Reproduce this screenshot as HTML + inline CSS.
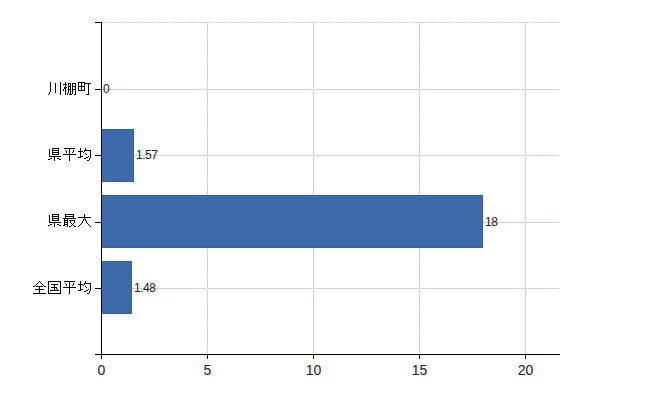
<!DOCTYPE html>
<html><head><meta charset="utf-8"><style>
html,body{margin:0;padding:0;background:#fff;}
svg{display:block;}
.xl{font-family:"Liberation Sans",sans-serif;font-size:14px;fill:#222;}
.vl{font-family:"Liberation Sans",sans-serif;font-size:12px;fill:#222;letter-spacing:-0.5px;}
</style></head><body>
<svg width="650" height="400" viewBox="0 0 650 400" shape-rendering="crispEdges">
<rect x="207" y="23" width="1" height="331" fill="#c8d3c8"/>
<line x1="207.5" y1="27" x2="207.5" y2="354" stroke="#f0c4f0" stroke-width="1" stroke-dasharray="1,5"/>
<rect x="313" y="23" width="1" height="331" fill="#c8d3c8"/>
<line x1="313.5" y1="28" x2="313.5" y2="354" stroke="#f0c4f0" stroke-width="1" stroke-dasharray="1,5"/>
<rect x="419" y="23" width="1" height="331" fill="#c8d3c8"/>
<line x1="419.5" y1="28" x2="419.5" y2="354" stroke="#f0c4f0" stroke-width="1" stroke-dasharray="1,5"/>
<rect x="525" y="23" width="1" height="331" fill="#c8d3c8"/>
<line x1="525.5" y1="27" x2="525.5" y2="354" stroke="#f0c4f0" stroke-width="1" stroke-dasharray="1,5"/>
<rect x="102" y="89" width="457" height="1" fill="#cdd6cd"/>
<rect x="102" y="155" width="457" height="1" fill="#cdd6cd"/>
<rect x="102" y="222" width="457" height="1" fill="#cdd6cd"/>
<rect x="102" y="288" width="457" height="1" fill="#cdd6cd"/>
<line x1="102" y1="22.5" x2="559" y2="22.5" stroke="#d2d8d2" stroke-width="1" stroke-dasharray="7,1,14,1,14,1,14,1,14,1,14,1,14,1,14,1,14,1,14,1,14,1,14,1,14,1,14,1,14,1,14,1,14,1,14,1,14,1,14,1,14,1,14,1,14,1,14,1,14,1,14,1,14,1,14,1,14,1,14,1,14,1"/>
<rect x="207" y="89" width="1" height="1" fill="#fff"/>
<rect x="207" y="155" width="1" height="1" fill="#fff"/>
<rect x="207" y="222" width="1" height="1" fill="#fff"/>
<rect x="207" y="288" width="1" height="1" fill="#fff"/>
<rect x="313" y="89" width="1" height="1" fill="#fff"/>
<rect x="313" y="155" width="1" height="1" fill="#fff"/>
<rect x="313" y="222" width="1" height="1" fill="#fff"/>
<rect x="313" y="288" width="1" height="1" fill="#fff"/>
<rect x="419" y="89" width="1" height="1" fill="#fff"/>
<rect x="419" y="155" width="1" height="1" fill="#fff"/>
<rect x="419" y="222" width="1" height="1" fill="#fff"/>
<rect x="419" y="288" width="1" height="1" fill="#fff"/>
<rect x="525" y="89" width="1" height="1" fill="#fff"/>
<rect x="525" y="155" width="1" height="1" fill="#fff"/>
<rect x="525" y="222" width="1" height="1" fill="#fff"/>
<rect x="525" y="288" width="1" height="1" fill="#fff"/>
<rect x="102" y="129" width="32" height="53" fill="#385fa5"/>
<rect x="102" y="130" width="31" height="51" fill="#3c6aaa"/>
<rect x="102" y="195" width="381" height="53" fill="#385fa5"/>
<rect x="102" y="196" width="380" height="51" fill="#3c6aaa"/>
<rect x="102" y="261" width="30" height="53" fill="#385fa5"/>
<rect x="102" y="262" width="29" height="51" fill="#3c6aaa"/>
<rect x="101" y="22" width="1" height="333" fill="#000"/>
<rect x="95" y="22" width="6" height="1" fill="#000"/>
<rect x="95" y="354" width="6" height="1" fill="#000"/>
<rect x="95" y="89" width="6" height="1" fill="#000"/>
<rect x="95" y="155" width="6" height="1" fill="#000"/>
<rect x="95" y="222" width="6" height="1" fill="#000"/>
<rect x="95" y="288" width="6" height="1" fill="#000"/>
<rect x="101" y="354" width="459" height="1" fill="#000"/>
<rect x="101" y="354" width="1" height="5" fill="#000"/>
<rect x="207" y="354" width="1" height="5" fill="#000"/>
<rect x="313" y="354" width="1" height="5" fill="#000"/>
<rect x="419" y="354" width="1" height="5" fill="#000"/>
<rect x="525" y="354" width="1" height="5" fill="#000"/>
<text x="101.5" y="375" class="xl" text-anchor="middle">0</text>
<text x="207.5" y="375" class="xl" text-anchor="middle">5</text>
<text x="313.5" y="375" class="xl" text-anchor="middle">10</text>
<text x="419.5" y="375" class="xl" text-anchor="middle">15</text>
<text x="525.5" y="375" class="xl" text-anchor="middle">20</text>
<text x="103" y="93" class="vl">0</text>
<text x="136" y="159" class="vl">1.57</text>
<text x="485" y="226" class="vl">18</text>
<text x="134" y="292" class="vl">1.48</text>
<path d="M50 82h1v1h-1zM60 82h1v1h-1zM65 82h1v1h-1zM78 82h7v1h-7zM50 83h1v1h-1zM55 83h1v1h-1zM60 83h1v1h-1zM65 83h1v1h-1zM68 83h3v1h-3zM72 83h4v1h-4zM78 83h1v1h-1zM81 83h1v1h-1zM84 83h7v1h-7zM50 84h1v1h-1zM55 84h1v1h-1zM60 84h1v1h-1zM63 84h4v1h-4zM68 84h1v1h-1zM70 84h1v1h-1zM72 84h1v1h-1zM75 84h1v1h-1zM78 84h1v1h-1zM81 84h1v1h-1zM84 84h1v1h-1zM88 84h1v1h-1zM50 85h1v1h-1zM55 85h1v1h-1zM60 85h1v1h-1zM65 85h1v1h-1zM68 85h1v1h-1zM70 85h1v1h-1zM72 85h1v1h-1zM75 85h1v1h-1zM78 85h1v1h-1zM81 85h1v1h-1zM84 85h1v1h-1zM88 85h1v1h-1zM50 86h1v1h-1zM55 86h1v1h-1zM60 86h1v1h-1zM65 86h1v1h-1zM68 86h3v1h-3zM72 86h4v1h-4zM78 86h7v1h-7zM88 86h1v1h-1zM50 87h1v1h-1zM55 87h1v1h-1zM60 87h1v1h-1zM64 87h3v1h-3zM68 87h1v1h-1zM70 87h1v1h-1zM72 87h1v1h-1zM75 87h1v1h-1zM78 87h1v1h-1zM81 87h1v1h-1zM84 87h1v1h-1zM88 87h1v1h-1zM50 88h1v1h-1zM55 88h1v1h-1zM60 88h1v1h-1zM64 88h2v1h-2zM68 88h1v1h-1zM70 88h1v1h-1zM72 88h1v1h-1zM75 88h1v1h-1zM78 88h1v1h-1zM81 88h1v1h-1zM84 88h1v1h-1zM88 88h1v1h-1zM50 89h1v1h-1zM55 89h1v1h-1zM60 89h1v1h-1zM63 89h1v1h-1zM65 89h1v1h-1zM68 89h3v1h-3zM72 89h4v1h-4zM78 89h1v1h-1zM81 89h1v1h-1zM84 89h1v1h-1zM88 89h1v1h-1zM50 90h1v1h-1zM55 90h1v1h-1zM60 90h1v1h-1zM63 90h1v1h-1zM65 90h1v1h-1zM68 90h1v1h-1zM70 90h1v1h-1zM72 90h1v1h-1zM75 90h1v1h-1zM78 90h7v1h-7zM88 90h1v1h-1zM50 91h1v1h-1zM55 91h1v1h-1zM60 91h1v1h-1zM65 91h1v1h-1zM68 91h1v1h-1zM70 91h1v1h-1zM72 91h1v1h-1zM75 91h1v1h-1zM88 91h1v1h-1zM49 92h1v1h-1zM55 92h1v1h-1zM60 92h1v1h-1zM65 92h1v1h-1zM68 92h1v1h-1zM70 92h1v1h-1zM72 92h1v1h-1zM75 92h1v1h-1zM88 92h1v1h-1zM49 93h1v1h-1zM60 93h1v1h-1zM65 93h1v1h-1zM67 93h1v1h-1zM70 93h1v1h-1zM72 93h1v1h-1zM75 93h1v1h-1zM88 93h1v1h-1zM48 94h1v1h-1zM60 94h1v1h-1zM65 94h1v1h-1zM67 94h1v1h-1zM69 94h3v1h-3zM74 94h2v1h-2zM86 94h3v1h-3zM52 148h7v1h-7zM64 148h11v1h-11zM80 148h1v1h-1zM85 148h1v1h-1zM49 149h1v1h-1zM52 149h1v1h-1zM58 149h1v1h-1zM69 149h1v1h-1zM80 149h1v1h-1zM85 149h1v1h-1zM49 150h1v1h-1zM52 150h7v1h-7zM65 150h1v1h-1zM69 150h1v1h-1zM73 150h1v1h-1zM80 150h1v1h-1zM84 150h7v1h-7zM49 151h1v1h-1zM52 151h1v1h-1zM58 151h1v1h-1zM66 151h1v1h-1zM69 151h1v1h-1zM73 151h1v1h-1zM78 151h5v1h-5zM84 151h1v1h-1zM90 151h1v1h-1zM49 152h1v1h-1zM52 152h7v1h-7zM66 152h1v1h-1zM69 152h1v1h-1zM72 152h1v1h-1zM80 152h1v1h-1zM83 152h1v1h-1zM90 152h1v1h-1zM49 153h1v1h-1zM52 153h1v1h-1zM58 153h1v1h-1zM69 153h1v1h-1zM80 153h1v1h-1zM85 153h1v1h-1zM90 153h1v1h-1zM49 154h1v1h-1zM52 154h7v1h-7zM63 154h13v1h-13zM80 154h1v1h-1zM86 154h1v1h-1zM90 154h1v1h-1zM49 155h1v1h-1zM69 155h1v1h-1zM80 155h1v1h-1zM90 155h1v1h-1zM49 156h12v1h-12zM69 156h1v1h-1zM80 156h3v1h-3zM88 156h1v1h-1zM90 156h1v1h-1zM54 157h1v1h-1zM69 157h1v1h-1zM78 157h3v1h-3zM86 157h2v1h-2zM90 157h1v1h-1zM50 158h2v1h-2zM54 158h1v1h-1zM57 158h2v1h-2zM69 158h1v1h-1zM84 158h2v1h-2zM89 158h1v1h-1zM48 159h2v1h-2zM54 159h1v1h-1zM59 159h2v1h-2zM69 159h1v1h-1zM89 159h1v1h-1zM54 160h1v1h-1zM69 160h1v1h-1zM87 160h2v1h-2zM52 214h7v1h-7zM65 214h9v1h-9zM84 214h1v1h-1zM49 215h1v1h-1zM52 215h1v1h-1zM58 215h1v1h-1zM65 215h1v1h-1zM73 215h1v1h-1zM84 215h1v1h-1zM49 216h1v1h-1zM52 216h7v1h-7zM65 216h9v1h-9zM84 216h1v1h-1zM49 217h1v1h-1zM52 217h1v1h-1zM58 217h1v1h-1zM65 217h1v1h-1zM73 217h1v1h-1zM78 217h13v1h-13zM49 218h1v1h-1zM52 218h7v1h-7zM63 218h13v1h-13zM84 218h1v1h-1zM49 219h1v1h-1zM52 219h1v1h-1zM58 219h1v1h-1zM64 219h1v1h-1zM67 219h1v1h-1zM83 219h1v1h-1zM85 219h1v1h-1zM49 220h1v1h-1zM52 220h7v1h-7zM64 220h4v1h-4zM69 220h6v1h-6zM83 220h1v1h-1zM85 220h1v1h-1zM49 221h1v1h-1zM64 221h1v1h-1zM67 221h1v1h-1zM70 221h1v1h-1zM74 221h1v1h-1zM82 221h1v1h-1zM86 221h1v1h-1zM49 222h12v1h-12zM64 222h4v1h-4zM70 222h1v1h-1zM74 222h1v1h-1zM82 222h1v1h-1zM86 222h1v1h-1zM54 223h1v1h-1zM64 223h1v1h-1zM67 223h1v1h-1zM71 223h1v1h-1zM73 223h1v1h-1zM81 223h1v1h-1zM87 223h1v1h-1zM50 224h2v1h-2zM54 224h1v1h-1zM57 224h2v1h-2zM64 224h4v1h-4zM72 224h1v1h-1zM80 224h1v1h-1zM88 224h1v1h-1zM48 225h2v1h-2zM54 225h1v1h-1zM59 225h2v1h-2zM63 225h2v1h-2zM67 225h1v1h-1zM71 225h1v1h-1zM73 225h1v1h-1zM79 225h1v1h-1zM89 225h1v1h-1zM54 226h1v1h-1zM67 226h1v1h-1zM69 226h2v1h-2zM74 226h2v1h-2zM78 226h1v1h-1zM90 226h1v1h-1zM39 281h1v1h-1zM48 281h13v1h-13zM64 281h11v1h-11zM80 281h1v1h-1zM85 281h1v1h-1zM38 282h1v1h-1zM40 282h1v1h-1zM48 282h1v1h-1zM60 282h1v1h-1zM69 282h1v1h-1zM80 282h1v1h-1zM85 282h1v1h-1zM37 283h1v1h-1zM41 283h1v1h-1zM48 283h1v1h-1zM60 283h1v1h-1zM65 283h1v1h-1zM69 283h1v1h-1zM73 283h1v1h-1zM80 283h1v1h-1zM84 283h7v1h-7zM36 284h1v1h-1zM42 284h1v1h-1zM48 284h1v1h-1zM51 284h7v1h-7zM60 284h1v1h-1zM66 284h1v1h-1zM69 284h1v1h-1zM73 284h1v1h-1zM78 284h5v1h-5zM84 284h1v1h-1zM90 284h1v1h-1zM35 285h1v1h-1zM43 285h1v1h-1zM48 285h1v1h-1zM54 285h1v1h-1zM60 285h1v1h-1zM66 285h1v1h-1zM69 285h1v1h-1zM72 285h1v1h-1zM80 285h1v1h-1zM83 285h1v1h-1zM90 285h1v1h-1zM33 286h2v1h-2zM36 286h7v1h-7zM44 286h2v1h-2zM48 286h1v1h-1zM54 286h1v1h-1zM60 286h1v1h-1zM69 286h1v1h-1zM80 286h1v1h-1zM85 286h1v1h-1zM90 286h1v1h-1zM39 287h1v1h-1zM48 287h1v1h-1zM51 287h6v1h-6zM60 287h1v1h-1zM63 287h13v1h-13zM80 287h1v1h-1zM86 287h1v1h-1zM90 287h1v1h-1zM39 288h1v1h-1zM48 288h1v1h-1zM54 288h1v1h-1zM56 288h1v1h-1zM60 288h1v1h-1zM69 288h1v1h-1zM80 288h1v1h-1zM90 288h1v1h-1zM35 289h9v1h-9zM48 289h1v1h-1zM54 289h1v1h-1zM57 289h1v1h-1zM60 289h1v1h-1zM69 289h1v1h-1zM80 289h3v1h-3zM88 289h1v1h-1zM90 289h1v1h-1zM39 290h1v1h-1zM48 290h1v1h-1zM50 290h9v1h-9zM60 290h1v1h-1zM69 290h1v1h-1zM78 290h3v1h-3zM86 290h2v1h-2zM90 290h1v1h-1zM39 291h1v1h-1zM48 291h1v1h-1zM60 291h1v1h-1zM69 291h1v1h-1zM84 291h2v1h-2zM89 291h1v1h-1zM39 292h1v1h-1zM48 292h1v1h-1zM60 292h1v1h-1zM69 292h1v1h-1zM89 292h1v1h-1zM33 293h13v1h-13zM48 293h13v1h-13zM69 293h1v1h-1zM87 293h2v1h-2z" fill="#000"/>
</svg>
</body></html>
